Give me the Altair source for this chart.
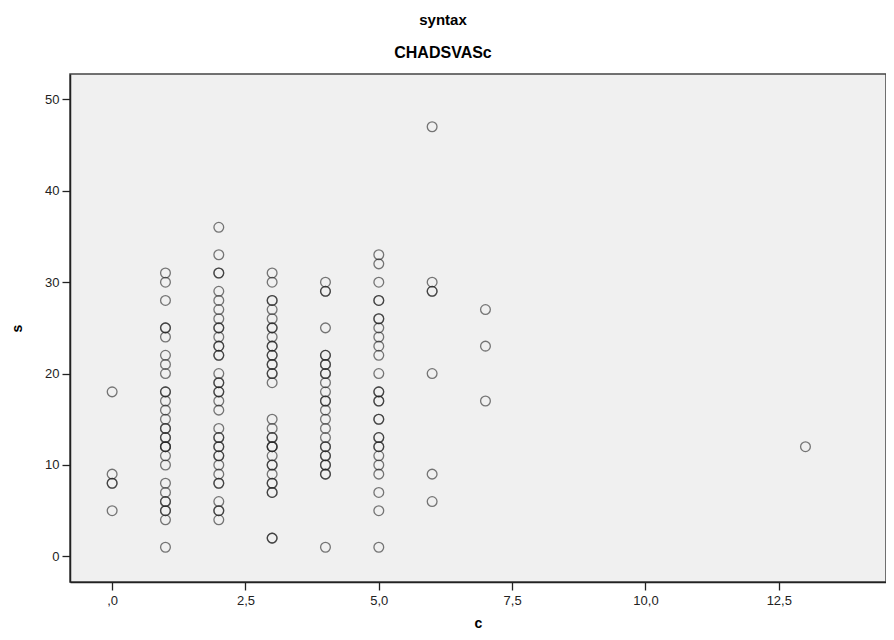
import altair as alt
import pandas as pd

# s values observed for each c value (duplicates = overlapping markers)
c_values = [0, 1, 2, 3, 4, 5, 6, 7, 13]
s_c0 = [18, 9, 8, 8, 5]
s_c1 = [31, 30, 28, 25, 25, 24, 22, 21, 20, 18, 18, 17, 16, 15, 14, 14, 13, 13,
        12, 12, 12, 11, 10, 8, 7, 6, 6, 5, 5, 4, 1]
s_c2 = [36, 33, 31, 31, 29, 28, 27, 26, 25, 25, 24, 23, 23, 22, 22, 20, 19, 19,
        18, 18, 17, 16, 14, 13, 13, 12, 12, 11, 11, 10, 9, 8, 8, 6, 5, 5, 4]
s_c3 = [31, 30, 28, 28, 27, 26, 25, 25, 24, 23, 23, 22, 22, 21, 21, 20, 20, 19,
        15, 14, 13, 13, 12, 12, 12, 11, 10, 10, 9, 8, 8, 7, 7, 2, 2]
s_c4 = [30, 29, 29, 25, 22, 22, 21, 21, 20, 20, 19, 18, 17, 17, 16, 15, 14, 13,
        12, 12, 11, 11, 10, 10, 9, 9, 1]
s_c5 = [33, 32, 30, 28, 28, 26, 26, 25, 24, 23, 22, 20, 18, 18, 17, 17, 15, 15,
        13, 13, 12, 12, 11, 10, 9, 7, 5, 1]
s_c6 = [47, 30, 29, 29, 20, 9, 6]
s_c7 = [27, 23, 17]
s_c13 = [12]

x_ticks = [0, 2.5, 5, 7.5, 10, 12.5]
y_ticks = [0, 10, 20, 30, 40, 50]

groups = [s_c0, s_c1, s_c2, s_c3, s_c4, s_c5, s_c6, s_c7, s_c13]
rows = []
for cv, svals in zip(c_values, groups):
    for sv in svals:
        rows.append({"c": cv, "s": sv})
df = pd.DataFrame(rows)

font = "Liberation Sans"

chart = (
    alt.Chart(df)
    .mark_point(shape="circle", filled=False, size=95, stroke="#222",
                strokeWidth=1.3, strokeOpacity=0.85, clip=True)
    .encode(
        x=alt.X("c:Q",
                scale=alt.Scale(domain=[-0.79, 14.51], nice=False, zero=False),
                axis=alt.Axis(values=x_ticks, title="c", grid=False,
                              labelExpr="datum.value == 0 ? ',0' : replace(format(datum.value, '.1f'), '.', ',')",
                              tickSize=8, labelPadding=4, titlePadding=9)),
        y=alt.Y("s:Q",
                scale=alt.Scale(domain=[-2.8, 52.77], nice=False, zero=False),
                axis=alt.Axis(values=y_ticks, title="s", grid=False,
                              tickSize=8, labelPadding=3, titlePadding=20)),
    )
    .properties(
        width=816,
        height=508,
        title=alt.TitleParams(
            text="syntax",
            subtitle="CHADSVASc",
            anchor="middle",
            dx=-35,
            fontSize=15,
            subtitleFontSize=16,
            font=font,
            subtitleFont=font,
            fontWeight="bold",
            subtitleFontWeight="bold",
            color="#000",
            subtitleColor="#000",
            subtitlePadding=17,
            offset=13,
        ),
        autosize=alt.AutoSizeParams(type="none"),
        padding={"left": 62, "top": 66, "right": 0, "bottom": 50},
        background="white",
    )
    .configure_view(fill="#f0f0f0", stroke="#444", strokeWidth=1.5)
    .configure_axis(
        domainColor="#222", domainWidth=1.5, tickColor="#222", tickWidth=1.3,
        labelFont=font, labelFontSize=13, labelColor="#222",
        titleFont=font, titleFontSize=14, titleFontWeight="bold", titleColor="#000",
    )
)

chart.save("out.html", embed_options={"renderer": "svg", "actions": False})
